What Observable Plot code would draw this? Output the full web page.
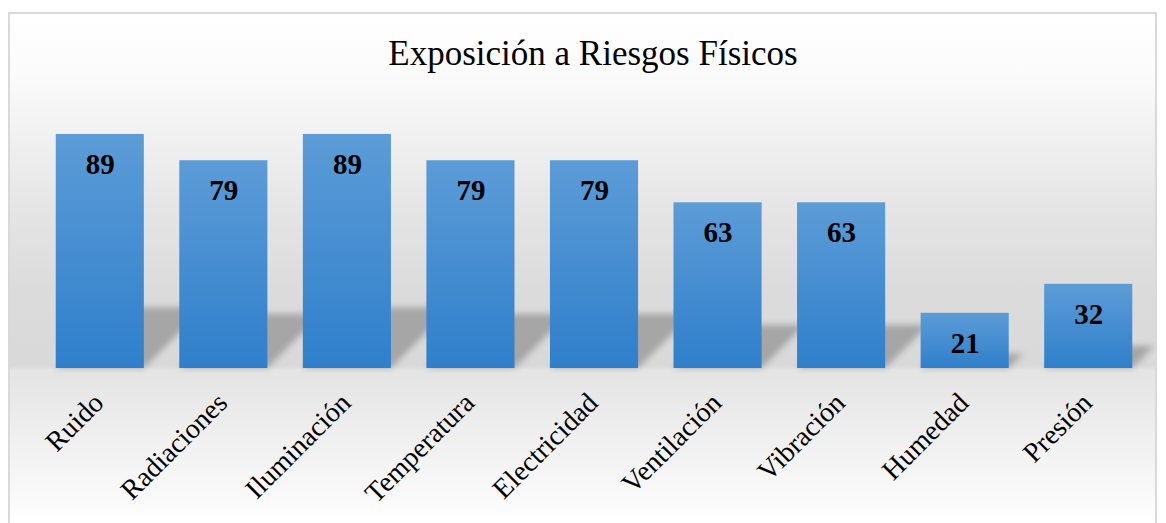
<!DOCTYPE html>
<html>
<head>
<meta charset="utf-8">
<script src="https://cdn.jsdelivr.net/npm/d3@7"></script>
<script src="https://cdn.jsdelivr.net/npm/@observablehq/plot@0.6"></script>
<style>
  html, body { margin: 0; padding: 0; background: #ffffff; width: 1166px; height: 523px; overflow: hidden; }
  #frame {
    position: absolute; left: 8px; top: 12px; width: 1145px; height: 520px;
    border: 2px solid #d9d9d9; border-bottom: none;
    background: linear-gradient(to bottom,
      #ffffff 0px, #fbfbfb 60px, #f1f1f1 120px, #e4e4e4 200px, #dbdbdb 280px,
      #d9d9d9 352px, #e4e4e4 356px, #e6e6e6 370px, #efefef 420px, #f9f9f9 480px, #ffffff 509px);
  }
  #title {
    position: absolute; left: 0; top: 36px; width: 1186px; text-align: center;
    font-family: "Liberation Serif", "Times New Roman", serif; font-size: 35px; line-height: 35px; color: #000;
  }
  #chart { position: absolute; left: 0; top: 80px; }
</style>
</head>
<body>
<div id="frame"></div>
<div id="title"></div>
<div id="chart"></div>
<script>
const chartTitle = "Exposición a Riesgos Físicos";
const categories = ["Ruido", "Radiaciones", "Iluminación", "Temperatura", "Electricidad", "Ventilación", "Vibración", "Humedad", "Presión"];
const values = [89, 79, 89, 79, 79, 63, 63, 21, 32];

document.getElementById("title").textContent = chartTitle;

const data = categories.map((c, i) => ({category: c, value: values[i]}));

const defs = () => {
  const d = d3.create("svg:defs");
  const g = d.append("linearGradient").attr("id", "barGrad")
    .attr("x1", 0).attr("y1", 0).attr("x2", 0).attr("y2", 1);
  g.append("stop").attr("offset", "0%").attr("stop-color", "#5c9cd7");
  g.append("stop").attr("offset", "100%").attr("stop-color", "#2f7fcb");
  return d.node();
};

const shadows = Plot.barY(data, {
  x: "category", y: "value", fill: "black",
  render: (index, scales, vals, dims, ctx, next) => {
    const g = next(index, scales, vals, dims, ctx);
    const out = d3.create("svg:g").style("filter", "blur(3px)");
    for (const r of g.querySelectorAll("rect")) {
      const x = +r.getAttribute("x"), w = +r.getAttribute("width");
      const y = +r.getAttribute("y"), h = +r.getAttribute("height");
      const b = y + h, s = 0.26 * h;
      out.append("polygon")
        .attr("points", `${x},${b} ${x + w},${b} ${x + w + s},${b - s} ${x + s},${b - s}`)
        .attr("fill", "#000").attr("fill-opacity", 0.24);
    }
    return out.node();
  }
});

const chart = Plot.plot({
  width: 1166,
  height: 443,
  marginLeft: 38,
  marginRight: 16,
  marginTop: 25,
  marginBottom: 155,
  style: {background: "transparent", overflow: "visible", fontFamily: "Liberation Serif"},
  x: {domain: categories, paddingInner: 0.287, paddingOuter: 0.1435, round: false, axis: null},
  y: {domain: [0, 100], axis: null},
  marks: [
    defs,
    shadows,
    Plot.barY(data, {x: "category", y: "value", fill: "url(#barGrad)"}),
    Plot.text(data, {
      x: "category", y: "value", text: d => String(d.value),
      dy: 30, lineAnchor: "middle", fontSize: 29, fontWeight: "bold",
      fontFamily: "Liberation Serif", fill: "#000"
    }),
    Plot.text(data, {
      x: "category", text: "category", frameAnchor: "bottom",
      rotate: -45, textAnchor: "end", lineAnchor: "bottom",
      dx: 5, dy: 36, fontSize: 28, fontFamily: "Liberation Serif", fill: "#000"
    })
  ]
});
document.getElementById("chart").appendChild(chart);
</script>
</body>
</html>
